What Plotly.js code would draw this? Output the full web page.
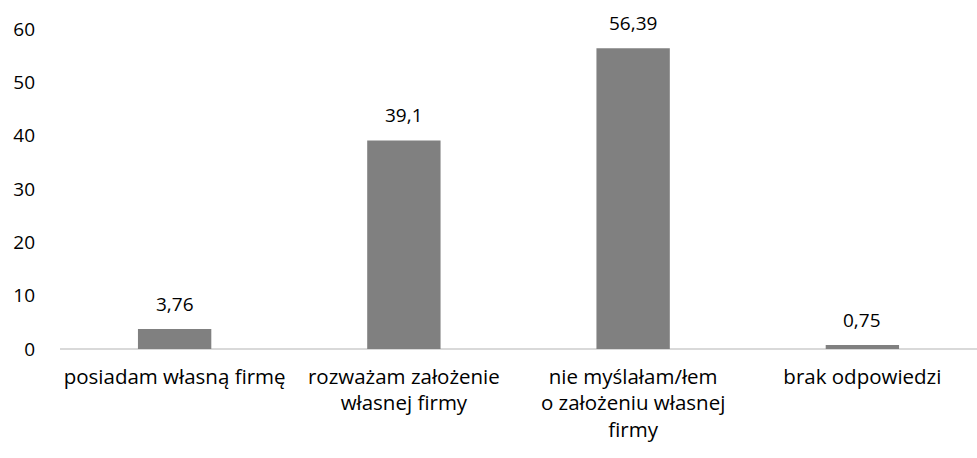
<!DOCTYPE html>
<html>
<head>
<meta charset="utf-8">
<script src="https://cdn.plot.ly/plotly-3.0.1.min.js"></script>
<style>html,body{margin:0;padding:0;background:#fff;}#chart{width:977px;height:458px;}</style>
</head>
<body>
<div id="chart"></div>
<script>
const categories = [
  "posiadam własną firmę",
  "rozważam założenie<br>własnej firmy",
  "nie myślałam/łem<br>o założeniu własnej<br>firmy",
  "brak odpowiedzi"
];
const values = [3.76, 39.1, 56.39, 0.75];
const labels = values.map(v => String(v).replace('.', ','));
const yTicks = [0, 10, 20, 30, 40, 50, 60];

const font = {family: "Open Sans, Noto Sans, sans-serif", size: 19, color: "#000"};
const catFont = {family: "Open Sans, Noto Sans, sans-serif", size: 20.5, color: "#000"};

const annotations = categories.map((c, i) => ({
  x: c, y: values[i], xref: "x", yref: "y",
  text: labels[i], showarrow: false,
  xanchor: "center", yanchor: "bottom", yshift: 10,
  font: font
}));

Plotly.newPlot("chart", [{
  type: "bar",
  x: categories,
  y: values,
  marker: {color: "#808080"},
  hoverinfo: "none"
}], {
  width: 977, height: 458,
  margin: {l: 60, r: 0, t: 29, b: 109},
  paper_bgcolor: "#fff", plot_bgcolor: "#fff",
  bargap: 0.68,
  showlegend: false,
  font: font,
  annotations: annotations,
  xaxis: {
    showgrid: false, zeroline: false, showline: false,
    ticks: "", tickfont: catFont, tickangle: 0, automargin: false,
    ticklabelstandoff: 13
  },
  yaxis: {
    range: [0, 60], tickvals: yTicks, ticktext: yTicks.map(String),
    showgrid: false, zeroline: true, zerolinecolor: "#d9d9d9", zerolinewidth: 2,
    showline: false, ticks: "", tickfont: font, ticklabelstandoff: 24, automargin: false
  }
}, {displayModeBar: false, staticPlot: true});
</script>
</body>
</html>
